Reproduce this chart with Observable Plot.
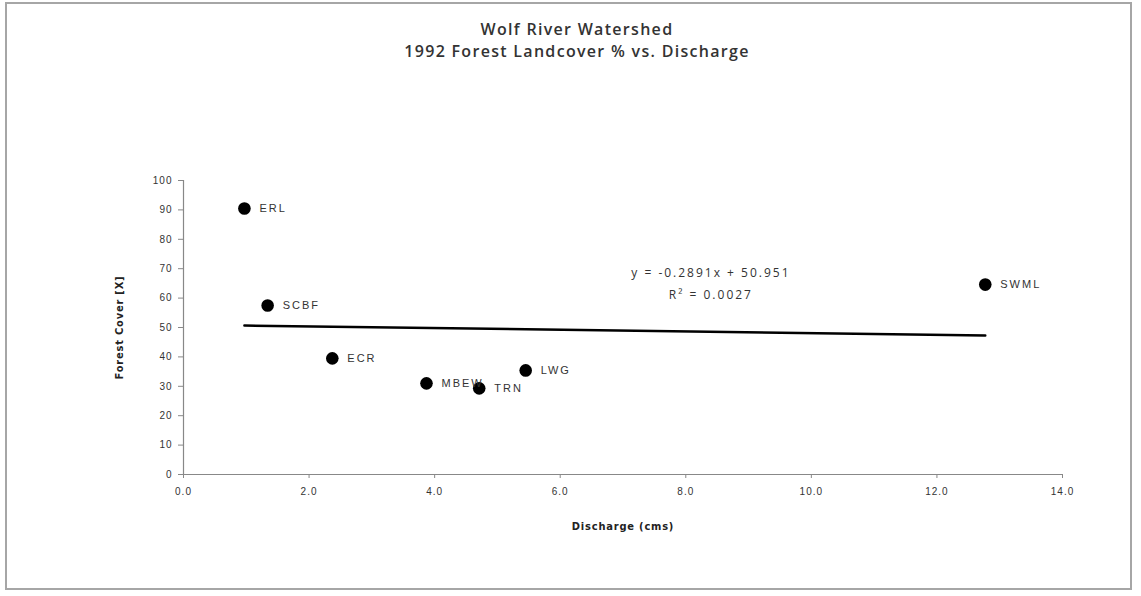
<!DOCTYPE html>
<html>
<head>
<meta charset="utf-8">
<script src="https://cdn.jsdelivr.net/npm/d3@7"></script>
<script src="https://cdn.jsdelivr.net/npm/@observablehq/plot@0.6"></script>
<style>
  html, body { margin: 0; padding: 0; background: #fff; }
  #wrap { position: relative; width: 1141px; height: 596px; overflow: hidden; }
  #frame { position: absolute; left: 5px; top: 2px; width: 1127px; height: 588px; border: 2px solid #a6a6a6; box-sizing: border-box; pointer-events: none; }
  .title { position: absolute; left: 0; width: 1154px; text-align: center; font-family: "Open Sans", "Liberation Sans", sans-serif; font-weight: 600; color: #333; font-size: 16px; letter-spacing: 1.3px; }
  #chart { position: absolute; left: 0; top: 0; }
</style>
</head>
<body>
<div id="wrap">
  <div class="title" style="top:18px;">Wolf River Watershed</div>
  <div class="title" style="top:40px;">1992 Forest Landcover % vs. Discharge</div>
  <div id="chart"></div>
  <div id="frame"></div>
</div>
<script>
// Data
const sites = ["ERL", "SCBF", "ECR", "MBEW", "TRN", "LWG", "SWML"];
const discharge = [0.97, 1.34, 2.37, 3.87, 4.71, 5.45, 12.77];
const forestCover = [90.5, 57.5, 39.5, 31.0, 29.3, 35.4, 64.6];

// Trendline (as printed on the chart)
const slope = -0.2891;
const intercept = 50.951;
const equationLines = ["y = -0.2891x + 50.951", "R² = 0.0027"];
const equationX = [8.4, 8.4];
const equationY = [68.4, 60.9];

const xTicks = [0, 2, 4, 6, 8, 10, 12, 14];
const yTicks = [0, 10, 20, 30, 40, 50, 60, 70, 80, 90, 100];

const points = sites.map((s, i) => ({site: s, x: discharge[i], y: forestCover[i]}));
const xMin = d3.min(discharge), xMax = d3.max(discharge);
const trend = [xMin, xMax].map(x => ({x, y: slope * x + intercept}));
const eq = equationLines.map((t, i) => ({t, x: equationX[i], y: equationY[i]}));

const chart = Plot.plot({
  width: 1141,
  height: 596,
  marginLeft: 183,
  marginRight: 79,
  marginTop: 180,
  marginBottom: 122,
  style: {fontFamily: "Liberation Sans, Arial, sans-serif", fontSize: "10px", color: "#333", background: "transparent"},
  x: {domain: [0, 14]},
  y: {domain: [0, 100]},
  marks: [
    Plot.axisX({ticks: xTicks, tickFormat: d3.format(".1f"), tickSize: 4, tickPadding: 9, stroke: "#888",
      label: "Discharge (cms)", labelAnchor: "center", labelArrow: "none", labelOffset: 55,
      fontSize: 10}),
    Plot.axisY({ticks: yTicks, tickSize: 5, tickPadding: 6, stroke: "#888",
      label: "Forest Cover [X]", labelAnchor: "center", labelArrow: "none", labelOffset: 68,
      fontSize: 10}),
    Plot.ruleY([0], {stroke: "#888", strokeWidth: 1.2}),
    Plot.ruleX([0], {stroke: "#888", strokeWidth: 1.2}),
    Plot.line(trend, {x: "x", y: "y", stroke: "#000", strokeWidth: 2.5}),
    Plot.dot(points, {x: "x", y: "y", r: 6.3, fill: "#000", stroke: "none"}),
    Plot.text(points, {x: "x", y: "y", text: "site", dx: 15, textAnchor: "start", fontSize: 11, fill: "#333",
      fontFamily: "Liberation Sans, Arial, sans-serif"}),
    Plot.text(eq, {x: "x", y: "y", text: "t", fontSize: 12, fill: "#333", fontFamily: "Open Sans, sans-serif"})
  ]
});
document.getElementById("chart").appendChild(chart);

// style axis labels (bold, condensed) and letter-spacing of point labels
const svg = d3.select(chart);
svg.selectAll("[aria-label='x-axis label'] text, [aria-label='y-axis label'] text")
  .style("font-weight", "bold").style("font-size", "11px")
  .style("font-family", "'Liberation Sans Narrow', 'DejaVu Sans Condensed', sans-serif")
  .style("letter-spacing", "0.8px").attr("fill", "#222");
svg.selectAll("[aria-label='text'] text").style("letter-spacing", "2px");
svg.selectAll("[aria-label='x-axis tick label'] text, [aria-label='y-axis tick label'] text").style("letter-spacing", "1px");
</script>
</body>
</html>
